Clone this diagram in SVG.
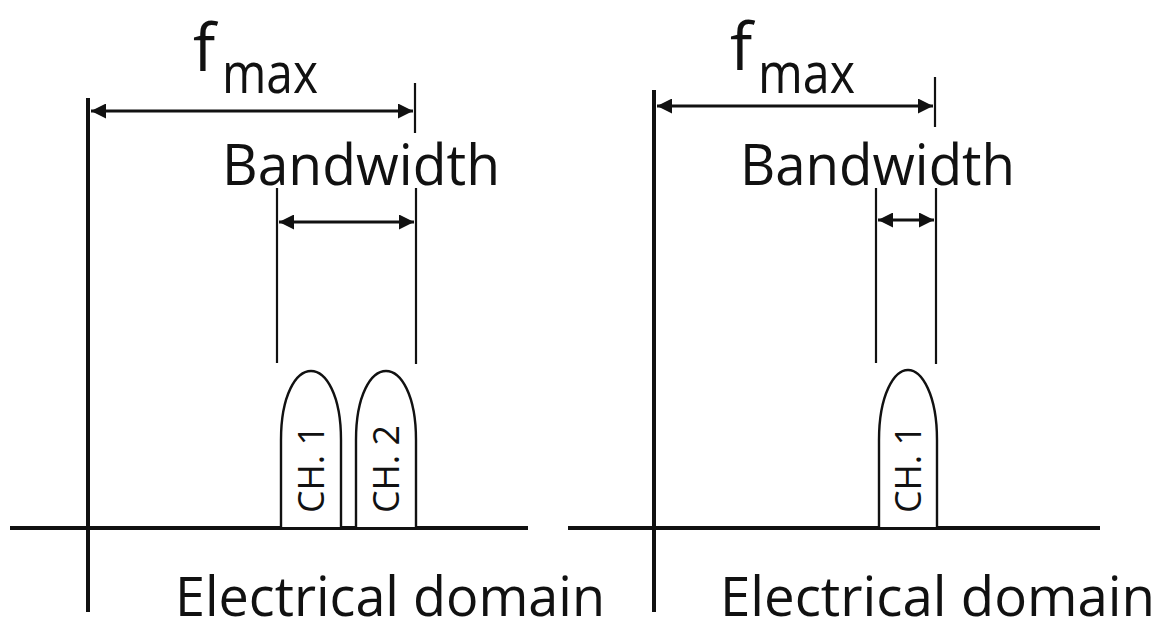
<svg xmlns="http://www.w3.org/2000/svg" width="1173" height="630" viewBox="0 0 1173 630">
<style>
text{font-family:"Open Sans","Noto Sans","Liberation Sans",sans-serif;fill:#111}
.axis{stroke:#111;stroke-width:4;fill:none}
.dim{stroke:#111;stroke-width:3;fill:none}
.thin{stroke:#111;stroke-width:2.2;fill:none}
.bullet{stroke:#111;stroke-width:2.4;fill:#fff}
.lbl{font-size:56px}
.dom{font-size:54px}
.ch{font-size:36px}
</style>
<defs>
<marker id="ah" viewBox="0 0 10 10" refX="10" refY="5" markerWidth="6" markerHeight="5" orient="auto-start-reverse" markerUnits="strokeWidth">
<path d="M0,0 L10,5 L0,10 z" fill="#111"/>
</marker>
</defs>
<rect width="1173" height="630" fill="#fff"/>
<g id="connectors">
<line class="axis" x1="88" y1="98" x2="88" y2="612"/>
<line class="axis" x1="10" y1="528" x2="528" y2="528"/>
<line class="dim" x1="91" y1="111" x2="413" y2="111" marker-start="url(#ah)" marker-end="url(#ah)"/>
<line class="thin" x1="415" y1="83" x2="415" y2="133"/>
<line class="thin" x1="277" y1="188" x2="277" y2="363"/>
<line class="thin" x1="416" y1="188" x2="416" y2="364"/>
<line class="dim" x1="279" y1="222" x2="414" y2="222" marker-start="url(#ah)" marker-end="url(#ah)"/>
<line class="axis" x1="654" y1="90" x2="654" y2="612"/>
<line class="axis" x1="568" y1="528" x2="1100" y2="528"/>
<line class="dim" x1="657" y1="106" x2="933" y2="106" marker-start="url(#ah)" marker-end="url(#ah)"/>
<line class="thin" x1="935" y1="77" x2="935" y2="127"/>
<line class="thin" x1="876" y1="188" x2="876" y2="363"/>
<line class="thin" x1="936" y1="188" x2="936" y2="364"/>
<line class="dim" x1="878" y1="220" x2="934" y2="220" marker-start="url(#ah)" marker-end="url(#ah)"/>
</g>
<g id="left-fmax">
<text x="193" y="71" font-size="66">f</text>
<text x="222" y="93" class="lbl" textLength="96" lengthAdjust="spacingAndGlyphs">max</text>
</g>
<g id="left-bandwidth">
<text x="222" y="185" class="lbl" textLength="278" lengthAdjust="spacingAndGlyphs">Bandwidth</text>
</g>
<g id="left-ch1">
<path class="bullet" d="M281,527 L281,440 C281,395 296,371 311,371 C326,371 341,395 341,440 L341,527"/>
<text class="ch" transform="translate(324,469) rotate(-90)" text-anchor="middle" textLength="88" lengthAdjust="spacingAndGlyphs">CH. 1</text>
</g>
<g id="left-ch2">
<path class="bullet" d="M356,527 L356,440 C356,395 371,371 386,371 C401,371 416,395 416,440 L416,527"/>
<text class="ch" transform="translate(399,469) rotate(-90)" text-anchor="middle" textLength="88" lengthAdjust="spacingAndGlyphs">CH. 2</text>
</g>
<g id="left-domain">
<text x="175" y="616" class="dom" textLength="430" lengthAdjust="spacingAndGlyphs">Electrical domain</text>
</g>
<g id="right-fmax">
<text x="730" y="70" font-size="66">f</text>
<text x="758" y="93" class="lbl" textLength="97" lengthAdjust="spacingAndGlyphs">max</text>
</g>
<g id="right-bandwidth">
<text x="740" y="185" class="lbl" textLength="275" lengthAdjust="spacingAndGlyphs">Bandwidth</text>
</g>
<g id="right-ch1">
<path class="bullet" d="M879,527 L879,440 C879,395 894,370 908,370 C922,370 937,395 937,440 L937,527"/>
<text class="ch" transform="translate(921,469) rotate(-90)" text-anchor="middle" textLength="88" lengthAdjust="spacingAndGlyphs">CH. 1</text>
</g>
<g id="right-domain">
<text x="720" y="616" class="dom" textLength="435" lengthAdjust="spacingAndGlyphs">Electrical domain</text>
</g>
</svg>
